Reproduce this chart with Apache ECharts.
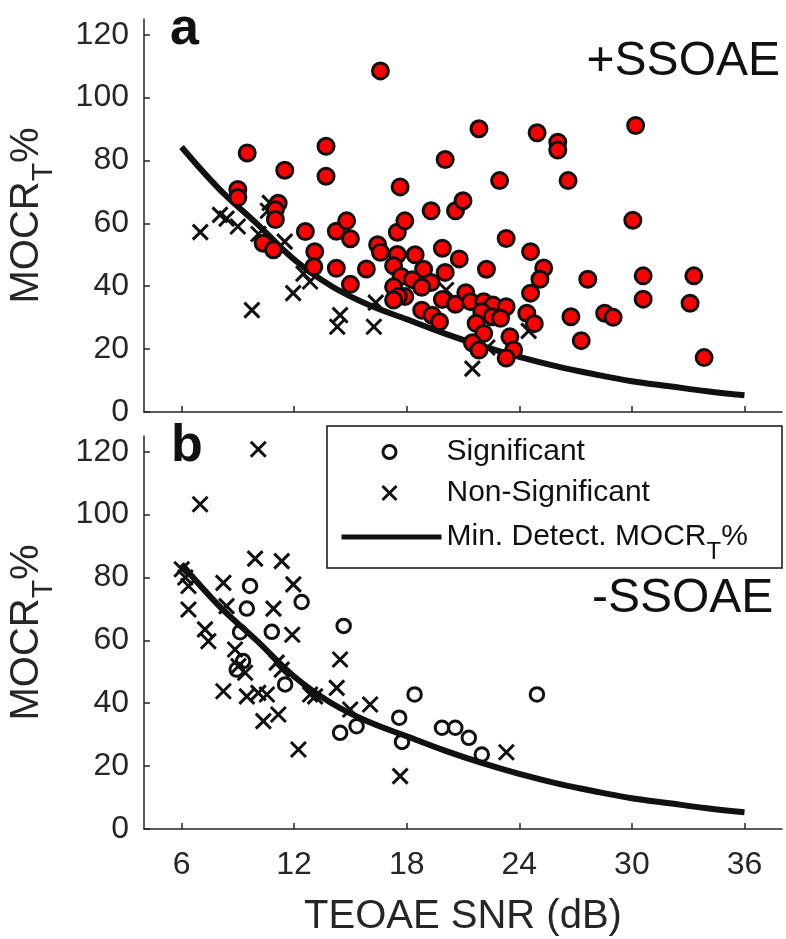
<!DOCTYPE html>
<html>
<head>
<meta charset="utf-8">
<script src="https://cdn.jsdelivr.net/npm/echarts@6/dist/echarts.min.js"></script>
<style>
html,body{margin:0;padding:0;background:#fff;}
#chart{width:786px;height:939px;}
</style>
</head>
<body>
<div id="chart"></div>
<script>
// ---- Data ----
const xTicks = [6, 12, 18, 24, 30, 36];
const yTicks = [0, 20, 40, 60, 80, 100, 120];

// Minimum detectable MOCR_T% curve (TEOAE SNR dB, MOCR_T %)
const curveSNR  = [6, 8, 10, 12, 14, 16, 18, 20, 22, 24, 26, 28, 30, 32, 34, 36];
const curveMOCR = [84.3, 71, 60, 48.5, 40, 34, 29.5, 25, 21, 17.5, 14.5, 12, 9.8, 8.2, 6.6, 5.3];

// Panel a (+SSOAE): significant (red filled circles)
const aSignificant = [
  [16.6,108.5],[9.5,82.4],[13.7,84.5],[13.7,75.0],[11.5,76.9],[9.0,70.8],[9.0,68.2],
  [11.15,66.4],[11.0,64.3],[11.0,61.2],[10.35,53.7],[10.9,51.6],[12.6,57.4],[13.1,51.0],
  [13.05,46.2],[14.25,45.7],[14.25,57.5],[14.8,60.8],[15.0,55.1],[15.0,40.6],[15.85,45.5],
  [16.45,53.2],[16.6,50.8],[17.5,57.2],[17.9,60.8],[17.65,71.6],[19.3,64.0],[20.6,64.0],
  [21.0,67.2],[20.05,80.3],[21.85,90.1],[22.95,73.6],[24.95,88.8],[26.05,85.8],[26.05,83.3],
  [26.6,73.6],[30.2,91.1],[30.05,61.0],[23.3,55.2],[24.6,51.0],[25.3,45.8],[25.1,42.2],
  [24.6,37.8],[24.4,31.4],[24.8,28.1],[19.9,52.1],[20.8,48.7],[22.25,45.4],[18.45,50.0],
  [17.5,50.1],[17.3,46.5],[18.9,45.4],[20.05,44.4],[17.7,43.1],[18.3,42.1],[19.3,41.2],
  [18.8,39.7],[17.3,39.8],[17.9,36.7],[17.55,36.8],[17.3,35.6],[19.9,35.8],[20.6,34.3],
  [21.15,37.9],[21.4,35.1],[18.8,32.4],[19.35,30.8],[19.75,28.7],[22.1,35.1],[22.6,34.0],
  [23.3,33.5],[22.0,31.9],[22.55,30.3],[23.0,29.8],[21.7,28.2],[22.1,25.0],[21.5,22.0],
  [21.85,19.7],[23.5,23.9],[23.7,19.7],[23.3,17.2],[27.65,42.2],[26.75,30.3],[27.3,22.7],
  [28.55,31.4],[29.0,30.1],[30.6,43.3],[30.6,35.9],[33.3,43.3],[33.1,34.6],[33.85,17.3]
];
// Panel a (+SSOAE): non-significant (crosses)
const aNonSignificant = [
  [7.0,57.2],[8.05,62.7],[8.4,61.5],[9.0,59.0],[9.75,32.4],[10.1,56.6],[10.7,66.5],[10.6,64.0],
  [11.5,54.2],[11.95,37.8],[12.5,44.0],[12.85,41.5],[14.3,27.1],[14.45,30.8],[16.25,27.1],
  [16.35,34.8],[20.1,38.8],[21.5,13.8],[22.3,20.5],[24.5,25.8]
];
// Panel b (-SSOAE): significant (open circles)
const bSignificant = [
  [9.65,77.3],[12.4,72.2],[9.48,70.1],[14.64,64.6],[10.81,62.7],[9.12,62.6],[9.28,53.4],
  [8.94,50.7],[11.52,46.0],[14.45,30.6],[15.33,32.7],[17.6,35.4],[17.75,27.7],[18.42,42.8],
  [24.94,42.8],[19.88,32.2],[20.59,32.2],[21.31,29.0],[22.0,23.7]
];
// Panel b (-SSOAE): non-significant (crosses)
const bNonSignificant = [
  [10.09,120.8],[6.99,103.3],[9.92,86.0],[11.34,85.2],[6.01,82.6],[6.2,80.0],[8.23,78.3],
  [11.96,77.8],[10.9,70.1],[6.37,69.8],[6.37,77.3],[8.4,70.9],[11.9,61.8],[7.25,63.5],
  [7.43,59.7],[8.85,57.1],[9.03,51.8],[9.39,49.7],[11.07,52.9],[11.34,50.7],[8.23,43.8],
  [9.48,42.2],[10.09,43.3],[10.55,42.8],[10.36,34.3],[11.16,36.4],[12.85,42.8],[13.12,42.2],
  [12.23,25.3],[14.45,53.9],[14.27,44.9],[14.99,38.0],[16.05,39.6],[17.65,16.8],[23.31,24.4]
];

// ---- Chart ----
const FONT = '"Liberation Sans", Arial, Helvetica, sans-serif';
const AX = '#262626';
const INK = '#111111';
const CROSS = 'path://M0,0L20,20M20,0L0,20';
const curve = curveSNR.map((x, i) => [x, curveMOCR[i]]);

function xAxisFor(gi, showLabels) {
  return {
    type: 'value', gridIndex: gi, min: 4, max: 38,
    axisLine: { show: true, onZero: false, lineStyle: { color: AX, width: 1.5 } },
    axisTick: { show: true, inside: true, length: 6, customValues: xTicks, lineStyle: { color: AX, width: 1.5 } },
    axisLabel: { show: showLabels, customValues: xTicks, margin: 20, fontSize: 32, color: AX, fontFamily: FONT },
    splitLine: { show: false },
    name: showLabels ? 'TEOAE SNR (dB)' : '',
    nameLocation: 'middle', nameGap: 68,
    nameTextStyle: { fontSize: 40, color: AX, fontFamily: FONT }
  };
}
function yAxisFor(gi) {
  return {
    type: 'value', gridIndex: gi, min: 0, max: 125,
    axisLine: { show: true, onZero: false, lineStyle: { color: AX, width: 1.5 } },
    axisTick: { show: true, inside: true, length: 6, customValues: yTicks, lineStyle: { color: AX, width: 1.5 } },
    axisLabel: { customValues: yTicks, margin: 15, fontSize: 32, color: AX, fontFamily: FONT },
    splitLine: { show: false },
    name: '{m|MOCR}{s|T}{m|%}',
    nameLocation: 'middle', nameRotate: 90, nameGap: 97,
    nameTextStyle: {
      color: AX, fontFamily: FONT,
      rich: {
        m: { fontSize: 40, lineHeight: 40, color: AX, fontFamily: FONT },
        s: { fontSize: 30, lineHeight: 30, padding: [34, 0, 0, 0], color: AX, fontFamily: FONT }
      }
    }
  };
}

const chart = echarts.init(document.getElementById('chart'), null, { renderer: 'canvas' });
chart.setOption({
  animation: false,
  backgroundColor: '#ffffff',
  grid: [
    { left: 144, top: 19, width: 638, height: 393, containLabel: false, outerBoundsMode: 'none' },
    { left: 144, top: 436, width: 638, height: 393, containLabel: false, outerBoundsMode: 'none' }
  ],
  xAxis: [xAxisFor(0, false), xAxisFor(1, true)],
  yAxis: [yAxisFor(0), yAxisFor(1)],
  legend: [
    {
      data: ['Significant'], left: 381.5, top: 437, padding: 0, z: 20,
      itemWidth: 104, itemHeight: 13, selectedMode: false,
      itemStyle: { color: 'transparent', borderColor: INK, borderWidth: 3, opacity: 1 },
      textStyle: { fontSize: 30, lineHeight: 30, color: INK, fontFamily: FONT }
    },
    {
      data: ['Non-Significant'], left: 381, top: 478, padding: 0, z: 20,
      itemWidth: 104, itemHeight: 14, selectedMode: false, icon: CROSS,
      itemStyle: { color: 'transparent', borderColor: INK, borderWidth: 3, opacity: 1 },
      textStyle: { fontSize: 30, lineHeight: 30, color: INK, fontFamily: FONT }
    },
    {
      data: ['Min. Detect. MOCR_T%'], left: 341.5, top: 510, padding: 0, z: 20,
      itemWidth: 100, itemHeight: 5, selectedMode: false, icon: 'rect',
      itemStyle: { color: INK, borderWidth: 0, opacity: 1 },
      formatter: () => '{t|Min. Detect. MOCR}{s|T}{t|%}',
      textStyle: {
        fontSize: 30, color: INK, fontFamily: FONT,
        rich: {
          t: { fontSize: 30, lineHeight: 34, color: INK, fontFamily: FONT },
          s: { fontSize: 24, lineHeight: 24, padding: [30, 0, 0, 0], color: INK, fontFamily: FONT }
        }
      }
    }
  ],
  graphic: [
    { type: 'rect', shape: { x: 327, y: 426, width: 455, height: 142 }, style: { fill: '#fff', stroke: INK, lineWidth: 1.5 }, z: 5 },
    { type: 'text', x: 170, y: 30, style: { text: 'a', font: 'bold 52px ' + FONT, fill: INK, verticalAlign: 'middle', textAlign: 'left' }, z: 10 },
    { type: 'text', x: 171, y: 447, style: { text: 'b', font: 'bold 52px ' + FONT, fill: INK, verticalAlign: 'middle', textAlign: 'left' }, z: 10 },
    { type: 'text', x: 780, y: 61.7, style: { text: '+SSOAE', font: '48px ' + FONT, fill: INK, verticalAlign: 'middle', textAlign: 'right' }, z: 10 },
    { type: 'text', x: 592, y: 598.4, style: { text: '-SSOAE', font: '48px ' + FONT, fill: INK, verticalAlign: 'middle', textAlign: 'left' }, z: 10 }
  ],
  series: [
    {
      name: 'Non-Significant', type: 'scatter', xAxisIndex: 0, yAxisIndex: 0,
      data: aNonSignificant, symbol: CROSS, symbolSize: 15, z: 2,
      itemStyle: { color: 'transparent', borderColor: INK, borderWidth: 3, opacity: 1 }
    },
    {
      name: 'Min. Detect. MOCR_T%', type: 'line', xAxisIndex: 0, yAxisIndex: 0,
      data: curve, symbol: 'none', smooth: 0.4, z: 3,
      lineStyle: { color: INK, width: 6 }
    },
    {
      name: 'Significant (+SSOAE)', type: 'scatter', xAxisIndex: 0, yAxisIndex: 0,
      data: aSignificant, symbol: 'circle', symbolSize: 16, z: 4,
      itemStyle: { color: '#ff0000', borderColor: INK, borderWidth: 3, opacity: 1 }
    },
    {
      name: 'Non-Significant', type: 'scatter', xAxisIndex: 1, yAxisIndex: 1,
      data: bNonSignificant, symbol: CROSS, symbolSize: 15, z: 2,
      itemStyle: { color: 'transparent', borderColor: INK, borderWidth: 3, opacity: 1 }
    },
    {
      name: 'Min. Detect. MOCR_T%', type: 'line', xAxisIndex: 1, yAxisIndex: 1,
      data: curve, symbol: 'none', smooth: 0.4, z: 3,
      lineStyle: { color: INK, width: 6 }
    },
    {
      name: 'Significant', type: 'scatter', xAxisIndex: 1, yAxisIndex: 1,
      data: bSignificant, symbol: 'circle', symbolSize: 13.5, z: 4,
      itemStyle: { color: 'transparent', borderColor: INK, borderWidth: 3, opacity: 1 }
    }
  ]
});
</script>
</body>
</html>
